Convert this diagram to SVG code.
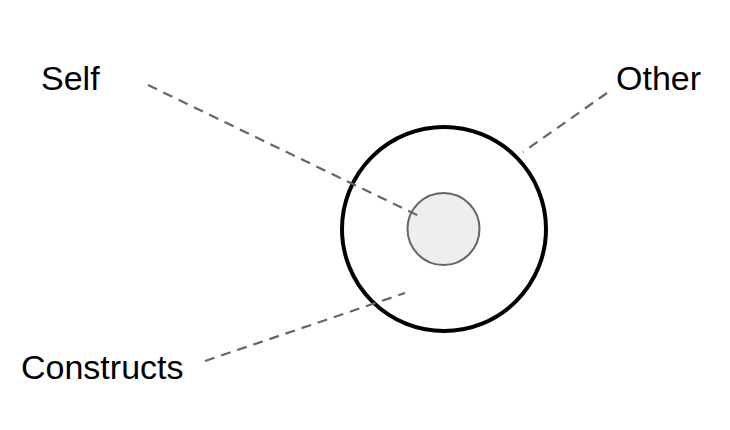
<svg xmlns="http://www.w3.org/2000/svg" width="730" height="430" viewBox="0 0 730 430">
<style>
.lbl{font-family:"Liberation Sans",Arial,sans-serif;font-size:34px;fill:#000}
.lead{stroke:#666;stroke-width:2.2;stroke-dasharray:10 7;fill:none}
</style>
<rect width="730" height="430" fill="#fff"/>
<g id="other-circle"><circle cx="444" cy="229" r="102" fill="none" stroke="#000" stroke-width="4"/></g>
<g id="self-circle"><circle cx="443.5" cy="229" r="36" fill="#eeeeee" stroke="#666" stroke-width="2"/></g>
<g id="connectors">
<line class="lead" x1="148" y1="85" x2="419" y2="216"/>
<line class="lead" x1="607" y1="93" x2="523" y2="152"/>
<line class="lead" x1="205" y1="361" x2="405" y2="293"/>
</g>
<g id="label-self"><text class="lbl" x="41" y="90">Self</text></g>
<g id="label-other"><text class="lbl" x="616" y="90">Other</text></g>
<g id="label-constructs"><text class="lbl" x="21" y="379">Constructs</text></g>
</svg>
